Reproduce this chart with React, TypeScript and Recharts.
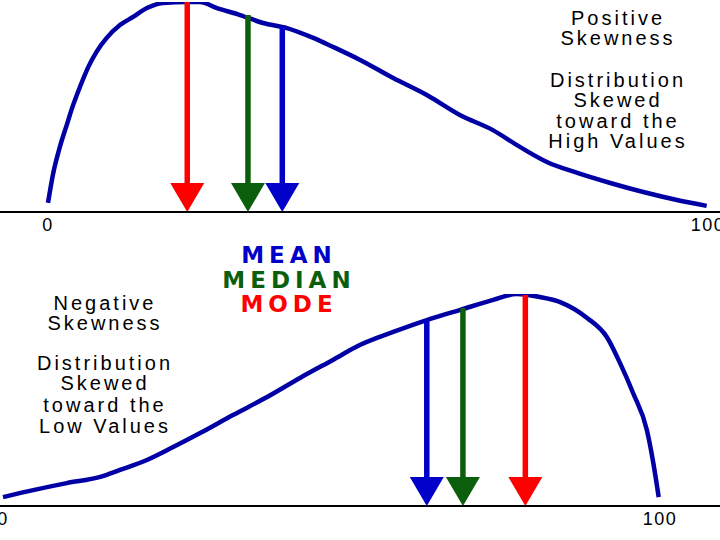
import React from 'react';
import { LineChart, Line, XAxis, YAxis, ReferenceLine } from 'recharts';

// positive skew curve (x 0..100, height 0..100)
const posX = [0, 0.8, 1.8, 2.9, 3.6, 4.9, 6.1, 7.4, 8.9, 10.9, 12.9, 15.0, 17.4, 21.1, 23.0, 25.6, 29.1, 32.6, 36.2, 40.2, 43.2, 47.3, 52.3, 57.4, 62.4, 67.4, 71.5, 75.6, 80.2, 85.2, 90.2, 95.3, 99.8];
const posY = [4.3, 18.6, 31.0, 42.0, 49.0, 60.0, 69.0, 76.5, 82.9, 89.0, 92.9, 97.1, 99.5, 100, 100, 97.1, 93.8, 90.0, 87.6, 82.9, 78.6, 72.4, 63.8, 55.7, 46.2, 39.0, 31.0, 23.8, 18.6, 13.8, 9.5, 5.7, 2.9];

// negative skew curve
const negX = [0, 4.6, 9.7, 14.8, 17.8, 21.9, 25.9, 30.0, 35.0, 40.2, 45.2, 50.2, 54.3, 59.4, 64.5, 69.6, 74.6, 78.2, 81.7, 84.8, 88.9, 91.9, 93.9, 95.9, 98.0, 98.9, 99.8];
const negY = [4.2, 7.5, 10.8, 13.7, 17.0, 21.7, 27.8, 34.4, 42.9, 51.4, 60.4, 68.9, 75.9, 82.1, 87.7, 92.5, 97.2, 100, 98.6, 96.2, 88.7, 79.7, 67.5, 53.3, 35.8, 21.7, 4.2];

// arrows: mode, median, mean
const statNames = ['mode', 'median', 'mean'];
const statColors = ['#ff0000', '#0b5e0b', '#0000c8'];
const posStatX = [21.1, 30.3, 35.5];
const posStatTop = [100, 93.8, 88.1];
const negStatX = [79.5, 70.0, 64.5];
const negStatTop = [99.5, 93.4, 87.7];

const axisTicks = [0, 100];

const posData = posX.map((x, i) => ({ x, y: posY[i] }));
const negData = negX.map((x, i) => ({ x, y: negY[i] }));

const Arrow = (props: any) => {
  const { x1, y1, x2, y2, color } = props;
  if (x1 == null || y2 == null) return null;
  const cx = x1;
  const head = 29;
  const bottom = Math.max(y1, y2);
  return (
    <g>
      <line x1={cx} y1={Math.min(y1, y2)} x2={cx} y2={bottom - head + 2} stroke={color} strokeWidth={5.5} />
      <polygon points={`${cx - 17},${bottom - head} ${cx + 17},${bottom - head} ${cx},${bottom}`} fill={color} />
    </g>
  );
};

const tickStyle = { fill: '#000', fontSize: 18, fontFamily: 'Liberation Sans, Arial, sans-serif', letterSpacing: 1.5 };

const textStyle: React.CSSProperties = {
  fontFamily: 'Liberation Sans, Arial, sans-serif',
  fontSize: 20,
  letterSpacing: 3,
};

const App = () => {
  return (
    <div style={{ position: 'absolute', left: 0, top: 0, width: 720, height: 540, background: '#fff', overflow: 'hidden' }}>
      <div style={{ position: 'absolute', left: 0, top: 0 }}>
        <LineChart width={720} height={240} data={posData} margin={{ top: 2, right: 0, bottom: 0, left: 0 }}>
          <XAxis
            dataKey="x"
            type="number"
            domain={[-7.27, 101.82]}
            allowDataOverflow
            ticks={axisTicks}
            interval={0}
            height={28}
            tickLine={false}
            tickMargin={0}
            axisLine={{ stroke: '#000', strokeWidth: 2 }}
            tick={tickStyle}
          />
          <YAxis hide domain={[0, 100]} allowDataOverflow />
          <Line type="monotone" dataKey="y" stroke="#0000a4" strokeWidth={4.5} dot={false} isAnimationActive={false} />
          {statNames.map((name, i) => (
            <ReferenceLine
              key={name}
              segment={[{ x: posStatX[i], y: posStatTop[i] }, { x: posStatX[i], y: 0 }]}
              ifOverflow="visible"
              shape={(p: any) => <Arrow {...p} color={statColors[i]} />}
            />
          ))}
        </LineChart>
      </div>
      <div style={{ position: 'absolute', left: 0, top: 240 }}>
        <LineChart width={720} height={300} data={negData} margin={{ top: 54, right: 0, bottom: 0, left: 0 }}>
          <XAxis
            dataKey="x"
            type="number"
            domain={[-0.46, 109.13]}
            allowDataOverflow
            ticks={axisTicks}
            interval={0}
            height={34}
            tickLine={false}
            tickMargin={0}
            axisLine={{ stroke: '#000', strokeWidth: 2 }}
            tick={tickStyle}
          />
          <YAxis hide domain={[0, 100]} allowDataOverflow />
          <Line type="monotone" dataKey="y" stroke="#0000a4" strokeWidth={4.5} dot={false} isAnimationActive={false} />
          {statNames.map((name, i) => (
            <ReferenceLine
              key={name}
              segment={[{ x: negStatX[i], y: negStatTop[i] }, { x: negStatX[i], y: 0 }]}
              ifOverflow="visible"
              shape={(p: any) => <Arrow {...p} color={statColors[i]} />}
            />
          ))}
        </LineChart>
      </div>
      <svg width={720} height={540} style={{ position: 'absolute', left: 0, top: 0, pointerEvents: 'none' }}>
        <g style={textStyle} textAnchor="middle" fill="#000">
          <text x={618} y={25}>Positive</text>
          <text x={618} y={45}>Skewness</text>
          <text x={618} y={87}>Distribution</text>
          <text x={618} y={107}>Skewed</text>
          <text x={618} y={128}>toward the</text>
          <text x={618} y={148}>High Values</text>

          <text x={105} y={310}>Negative</text>
          <text x={105} y={330}>Skewness</text>
          <text x={105} y={370}>Distribution</text>
          <text x={105} y={390}>Skewed</text>
          <text x={105} y={412}>toward the</text>
          <text x={105} y={433}>Low Values</text>
        </g>
        <g
          textAnchor="middle"
          style={{ fontFamily: 'DejaVu Sans, sans-serif', fontWeight: 'bold', fontSize: 23, letterSpacing: 5 }}
        >
          <text x={289} y={263} fill="#0000c8">MEAN</text>
          <text x={289} y={288} fill="#0b5e0b">MEDIAN</text>
          <text x={289} y={312} fill="#ff0000">MODE</text>
        </g>
      </svg>
    </div>
  );
};

export default App;
